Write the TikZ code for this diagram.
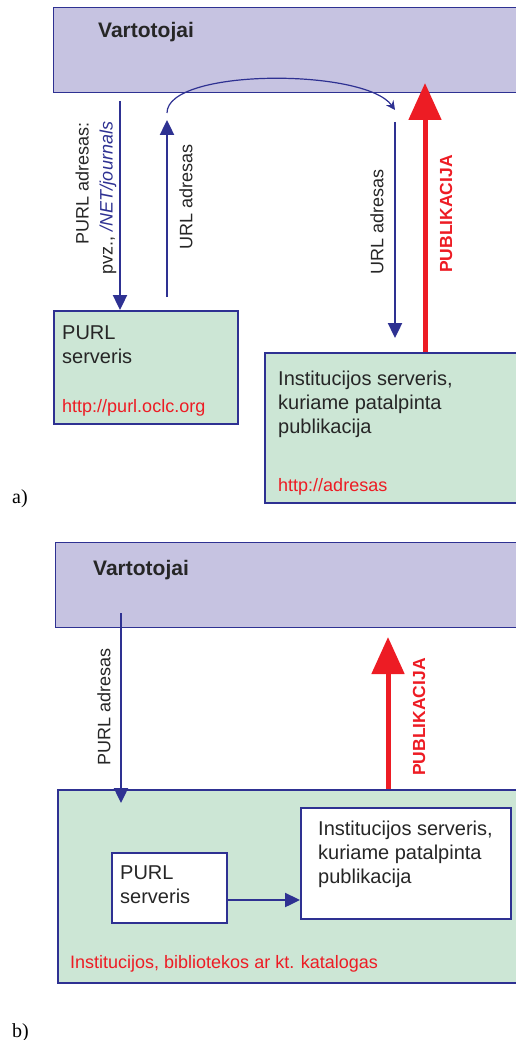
\documentclass[tikz,border=0pt]{standalone}
\usepackage{fontspec}
\setmainfont{Liberation Serif}
\setsansfont{Liberation Sans}
\usepackage{tikz}
\usetikzlibrary{arrows.meta,calc}

\definecolor{userfill}{HTML}{C6C3E1}
\definecolor{srvfill}{HTML}{CCE6D5}
\definecolor{navy}{HTML}{2E3192}
\definecolor{pubred}{HTML}{ED1C24}

\begin{document}
\begin{tikzpicture}[
  x=1pt, y=-1pt,
  userbox/.style = {draw=navy, line width=1.2pt, fill=userfill, anchor=north west, inner sep=0pt},
  srvbox/.style = {draw=navy, line width=2.2pt, fill=srvfill, anchor=north west, inner sep=0pt},
  whitebox/.style = {draw=navy, line width=2.2pt, fill=white, anchor=north west, inner sep=0pt},
  txt/.style = {font=\sffamily\fontsize{20}{24}\selectfont, text=black!85, anchor=base west, inner sep=0pt, align=left},
  urltxt/.style = {font=\sffamily\fontsize{18}{22}\selectfont, text=pubred, anchor=base west, inner sep=0pt},
  lbl/.style = {font=\sffamily\fontsize{18}{24}\selectfont, text=black!85, rotate=90, inner sep=0pt},
  publbl/.style = {font=\sffamily\bfseries\fontsize{17.5}{20}\selectfont, text=pubred, rotate=90, inner sep=0pt},
  bluearrow/.style = {draw=navy, line width=2.4pt, -{Triangle[width=14pt,length=15pt]}},
  redarrow/.style = {draw=pubred, line width=5pt, -{Triangle[width=32pt,length=37pt]}},
  sublbl/.style = {font=\rmfamily\fontsize{20}{24}\selectfont, anchor=base west, inner sep=0pt}
]
\useasboundingbox (0,0) rectangle (515,1040);

% a)
\node[userbox, minimum width=480, minimum height=85] (usersA) at (53,7) {};
\node[txt, font=\sffamily\bfseries\fontsize{21}{24}\selectfont] (usersAtxt) at (98,38) {Vartotojai};

\node[srvbox, minimum width=184, minimum height=113] (purlA) at (53,310) {};
\node[txt] (purlAtxt) at (62,363) {PURL\\serveris};
\node[urltxt] (purlAurl) at (62,412) {http://purl.oclc.org};

\node[srvbox, minimum width=270, minimum height=150] (instA) at (264,352) {};
\node[txt] (instAtxt) at (278,433) {Institucijos serveris,\\kuriame patalpinta\\publikacija};
\node[urltxt] (instAurl) at (278,491) {http://adresas};

\coordinate (reqA) at (120,101);
\coordinate (urlAup) at (167,297);
\coordinate (urlAtop) at (167,120);
\coordinate (hopA) at (395,110);
\coordinate (urlAdown) at (395,122);

\draw[bluearrow] (reqA) -- (reqA |- purlA.north);
\draw[bluearrow] (urlAup) -- (urlAtop);
\draw[navy, line width=1.2pt, -{Stealth[width=9pt,length=9pt]}]
  (167,113) .. controls (167,68) and (365,68) .. (hopA);
\draw[bluearrow] (urlAdown) -- ($(urlAdown |- instA.north)+(0,-14)$);
\draw[redarrow] (instA.north -| 425,0) -- (425,83);

\node[lbl, align=right] (reqAlbl) at (96,198) {PURL adresas:\\pvz., \textcolor{navy}{\itshape /NET/journals}};
\node[lbl] (urlAlbl1) at (186,197) {URL adresas};
\node[lbl] (urlAlbl2) at (377,222) {URL adresas};
\node[publbl] (pubAlbl) at (446,214) {PUBLIKACIJA};

\node[sublbl] (subA) at (12,503) {a)};

% b)
\node[userbox, minimum width=480, minimum height=85] (usersB) at (55,542) {};
\node[txt, font=\sffamily\bfseries\fontsize{21}{24}\selectfont] (usersBtxt) at (93,575) {Vartotojai};

\node[srvbox, minimum width=480, minimum height=193] (catB) at (57,789) {};
\node[urltxt] (catBtxt) at (70,968) {Institucijos, bibliotekos ar kt. katalogas};

\node[whitebox, minimum width=115, minimum height=70] (purlB) at (111,852) {};
\node[txt] (purlBtxt) at (120,903) {PURL\\serveris};

\node[whitebox, minimum width=210, minimum height=111] (instB) at (300,807) {};
\node[txt] (instBtxt) at (318,883) {Institucijos serveris,\\kuriame patalpinta\\publikacija};

\coordinate (reqB) at (121,613);
\draw[bluearrow] (reqB) -- (121,803);
\draw[bluearrow] (purlB.east |- 0,900) -- (instB.west |- 0,900);
\draw[redarrow] (catB.north -| 388,0) -- (388,637);

\node[lbl] (reqBlbl) at (104,707) {PURL adresas};
\node[publbl] (pubBlbl) at (419,717) {PUBLIKACIJA};

\node[sublbl] (subB) at (12,1037) {b)};
\end{tikzpicture}
\end{document}
